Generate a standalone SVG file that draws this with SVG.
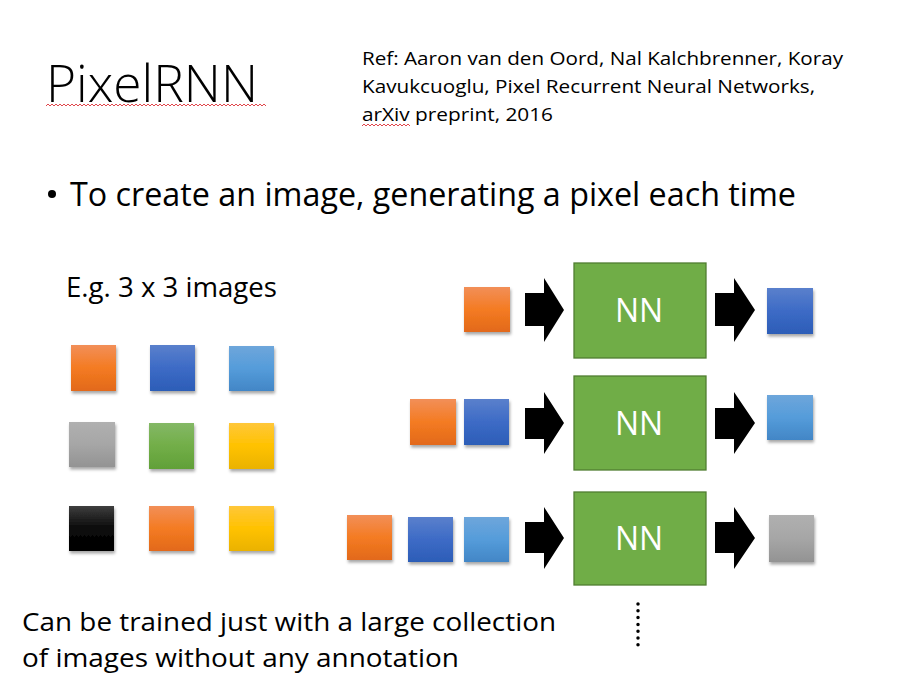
<svg xmlns="http://www.w3.org/2000/svg" width="901" height="692" viewBox="0 0 901 692">
<style>
text{font-family:'Open Sans','Liberation Sans',sans-serif;fill:#000}
.nn{fill:#70AD47;stroke:#507E32;stroke-width:1.3}
.nnt{fill:#fff;font-size:32px;text-anchor:middle}
.sq{filter:url(#sh)}
.arr{fill:#000}
.sp{fill:none;stroke:#e0474c;stroke-width:1}
</style>
<defs>
<filter id="sh" x="-20%" y="-20%" width="150%" height="150%"><feDropShadow dx="1" dy="2.5" stdDeviation="1.5" flood-color="#000" flood-opacity="0.35"/></filter>
<linearGradient id="gO" x1="0" y1="0" x2="0" y2="1"><stop offset="0" stop-color="#F28F58"/><stop offset="0.5" stop-color="#F47B22"/><stop offset="1" stop-color="#E2691A"/></linearGradient>
<linearGradient id="gB" x1="0" y1="0" x2="0" y2="1"><stop offset="0" stop-color="#5A80CC"/><stop offset="0.5" stop-color="#3D6BC6"/><stop offset="1" stop-color="#2C5DB7"/></linearGradient>
<linearGradient id="gL" x1="0" y1="0" x2="0" y2="1"><stop offset="0" stop-color="#6EA6DB"/><stop offset="0.5" stop-color="#559CDA"/><stop offset="1" stop-color="#4286C6"/></linearGradient>
<linearGradient id="gG" x1="0" y1="0" x2="0" y2="1"><stop offset="0" stop-color="#B0B0B0"/><stop offset="0.5" stop-color="#A6A6A6"/><stop offset="1" stop-color="#939393"/></linearGradient>
<linearGradient id="gN" x1="0" y1="0" x2="0" y2="1"><stop offset="0" stop-color="#84B866"/><stop offset="0.5" stop-color="#72AE48"/><stop offset="1" stop-color="#61A038"/></linearGradient>
<linearGradient id="gY" x1="0" y1="0" x2="0" y2="1"><stop offset="0" stop-color="#FFC73A"/><stop offset="0.5" stop-color="#FFC200"/><stop offset="1" stop-color="#EAB200"/></linearGradient>
<linearGradient id="gK" x1="0" y1="0" x2="0" y2="1"><stop offset="0" stop-color="#3E3E3E"/><stop offset="0.5" stop-color="#0A0A0A"/><stop offset="1" stop-color="#000"/></linearGradient>
</defs>
<rect width="901" height="692" fill="#fff"/>

<g id="title">
<text x="46" y="102" font-size="52" font-weight="300" textLength="212" lengthAdjust="spacingAndGlyphs">PixelRNN</text>
<path class="sp" d="M46 106 l2 -2 l2 2 l2 -2 l2 2 l2 -2 l2 2 l2 -2 l2 2 l2 -2 l2 2 l2 -2 l2 2 l2 -2 l2 2 l2 -2 l2 2 l2 -2 l2 2 l2 -2 l2 2 l2 -2 l2 2 l2 -2 l2 2 l2 -2 l2 2 l2 -2 l2 2 l2 -2 l2 2 l2 -2 l2 2 l2 -2 l2 2 l2 -2 l2 2 l2 -2 l2 2 l2 -2 l2 2 l2 -2 l2 2 l2 -2 l2 2 l2 -2 l2 2 l2 -2 l2 2 l2 -2 l2 2 l2 -2 l2 2 l2 -2 l2 2 l2 -2 l2 2 l2 -2 l2 2 l2 -2 l2 2 l2 -2 l2 2 l2 -2 l2 2 l2 -2 l2 2 l2 -2 l2 2 l2 -2 l2 2 l2 -2 l2 2 l2 -2 l2 2 l2 -2 l2 2 l2 -2 l2 2 l2 -2 l2 2 l2 -2 l2 2 l2 -2 l2 2 l2 -2 l2 2 l2 -2 l2 2 l2 -2 l2 2 l2 -2 l2 2 l2 -2 l2 2 l2 -2 l2 2 l2 -2 l2 2 l2 -2 l2 2 l2 -2 l2 2 l2 -2 l2 2 l2 -2 l2 2 l2 -2 l2 2 l2 -2 l2 2"/>
</g>

<g id="reference">
<text x="362" y="65" font-size="18" textLength="481" lengthAdjust="spacingAndGlyphs">Ref: Aaron van den Oord, Nal Kalchbrenner, Koray</text>
<text x="362" y="93" font-size="18" textLength="453" lengthAdjust="spacingAndGlyphs">Kavukcuoglu, Pixel Recurrent Neural Networks,</text>
<text x="362" y="121" font-size="18" textLength="191" lengthAdjust="spacingAndGlyphs">arXiv preprint, 2016</text>
<path class="sp" d="M362 126 l2 -2 l2 2 l2 -2 l2 2 l2 -2 l2 2 l2 -2 l2 2 l2 -2 l2 2 l2 -2 l2 2 l2 -2 l2 2 l2 -2 l2 2 l2 -2 l2 2 l2 -2 l2 2 l2 -2 l2 2 l2 -2 l2 2"/>
</g>

<g id="bullet">
<circle cx="52" cy="194" r="4"/>
<text x="70" y="206" font-size="33" textLength="726" lengthAdjust="spacingAndGlyphs">To create an image, generating a pixel each time</text>
</g>

<g id="example-label">
<text x="66" y="297" font-size="27" textLength="211" lengthAdjust="spacingAndGlyphs">E.g. 3 x 3 images</text>
</g>

<g id="grid">
<rect class="sq" x="71" y="345" width="45" height="46" fill="url(#gO)"/>
<rect class="sq" x="150" y="345" width="45" height="46" fill="url(#gB)"/>
<rect class="sq" x="229" y="346" width="45" height="45" fill="url(#gL)"/>
<rect class="sq" x="69" y="422" width="46" height="45" fill="url(#gG)"/>
<rect class="sq" x="149" y="423" width="45" height="46" fill="url(#gN)"/>
<rect class="sq" x="229" y="423" width="45" height="46" fill="url(#gY)"/>
<rect class="sq" x="69" y="506" width="45" height="45" fill="url(#gK)"/>
<rect class="sq" x="149" y="506" width="45" height="45" fill="url(#gO)"/>
<rect class="sq" x="229" y="506" width="45" height="45" fill="url(#gY)"/>
</g>

<g id="row1">
<rect class="sq" x="464" y="287" width="46" height="45" fill="url(#gO)"/>
<g id="nn1"><rect class="nn" x="574" y="263" width="132" height="95"/><text class="nnt" x="639" y="322">NN</text></g>
<rect class="sq" x="767" y="288" width="46" height="46" fill="url(#gB)"/>
</g>

<g id="row2">
<rect class="sq" x="410" y="399" width="46" height="46" fill="url(#gO)"/>
<rect class="sq" x="464" y="399" width="45" height="46" fill="url(#gB)"/>
<g id="nn2"><rect class="nn" x="574" y="376" width="132" height="94"/><text class="nnt" x="639" y="435">NN</text></g>
<rect class="sq" x="767" y="395" width="46" height="45" fill="url(#gL)"/>
</g>

<g id="row3">
<rect class="sq" x="347" y="515" width="45" height="45" fill="url(#gO)"/>
<rect class="sq" x="408" y="517" width="45" height="45" fill="url(#gB)"/>
<rect class="sq" x="464" y="517" width="45" height="45" fill="url(#gL)"/>
<g id="nn3"><rect class="nn" x="574" y="492" width="132" height="93"/><text class="nnt" x="639" y="550">NN</text></g>
<rect class="sq" x="769" y="515" width="45" height="47" fill="url(#gG)"/>
</g>

<g id="connectors">
<polygon class="arr" points="525,293 544,293 544,278 564,310 544,342 544,326 525,326"/>
<polygon class="arr" points="715,293 734,293 734,278 755,310 734,342 734,326 715,326"/>
<polygon class="arr" points="525,408 544,408 544,392 564,423 544,454 544,439 525,439"/>
<polygon class="arr" points="715,408 734,408 734,392 755,423 734,454 734,439 715,439"/>
<polygon class="arr" points="525,522 544,522 544,507 564,538 544,569 544,553 525,553"/>
<polygon class="arr" points="715,522 734,522 734,507 755,538 734,569 734,553 715,553"/>
<line x1="638" y1="604" x2="638" y2="645" stroke="#000" stroke-width="3.5" stroke-linecap="round" stroke-dasharray="0 6.8"/>
</g>

<g id="note">
<text x="22" y="631" font-size="26" textLength="534" lengthAdjust="spacingAndGlyphs">Can be trained just with a large collection</text>
<text x="22" y="667" font-size="26" textLength="437" lengthAdjust="spacingAndGlyphs">of images without any annotation</text>
</g>
</svg>
